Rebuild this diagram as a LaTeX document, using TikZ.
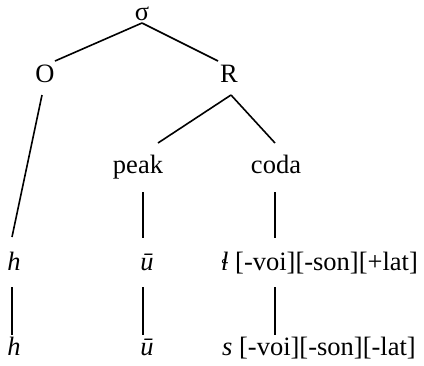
\documentclass[tikz,border=0pt]{standalone}
\usepackage{fontspec}
\setmainfont{Liberation Serif}
\begin{document}
\begin{tikzpicture}[x=1pt,y=-1pt,
  lbl/.style={inner sep=0pt,anchor=base,font=\fontsize{26.5}{30}\selectfont},
  branch/.style={line width=1.6pt}]
\useasboundingbox (0,0) rectangle (424,365);

% syllable structure
\node[lbl] (sigma) at (142,20) {σ};
\node[lbl] (O) at (45,82) {O};
\node[lbl] (R) at (229,82) {R};
\node[lbl] (peak) at (138,173) {peak};
\node[lbl] (coda) at (276,173) {coda};

% segments, first row
\node[lbl] (h1) at (14,270) {\textit{h}};
\node[lbl] (u1) at (147,270) {\textit{ū}};
\node[lbl,anchor=base west] (l1) at (221,270) {\textit{ɬ} [-voi][-son][+lat]};

% segments, second row
\node[lbl] (h2) at (14,355) {\textit{h}};
\node[lbl] (u2) at (147,355) {\textit{ū}};
\node[lbl,anchor=base west] (s2) at (222,355) {\textit{s} [-voi][-son][-lat]};

% attachment points of the branches
\coordinate (sigma-b) at (142,23);
\coordinate (O-t) at (55,61);
\coordinate (O-b) at (42,95);
\coordinate (R-t) at (218,61);
\coordinate (R-b) at (231,95);
\coordinate (peak-t) at (158,143);
\coordinate (coda-t) at (275,143);
\coordinate (peak-b) at (143,192);
\coordinate (coda-b) at (275,192);
\coordinate (h1-t) at (12,237);
\coordinate (u1-t) at (143,238);
\coordinate (l1-t) at (275,238);
\coordinate (h1-b) at (12,287);
\coordinate (u1-b) at (143,287);
\coordinate (l1-b) at (275,287);
\coordinate (h2-t) at (12,335);
\coordinate (u2-t) at (143,335);
\coordinate (s2-t) at (275,335);

\draw[branch] (sigma-b) -- (O-t);
\draw[branch] (sigma-b) -- (R-t);
\draw[branch] (O-b) -- (h1-t);
\draw[branch] (R-b) -- (peak-t);
\draw[branch] (R-b) -- (coda-t);
\draw[branch] (peak-b) -- (u1-t);
\draw[branch] (coda-b) -- (l1-t);
\draw[branch] (h1-b) -- (h2-t);
\draw[branch] (u1-b) -- (u2-t);
\draw[branch] (l1-b) -- (s2-t);
\end{tikzpicture}
\end{document}
